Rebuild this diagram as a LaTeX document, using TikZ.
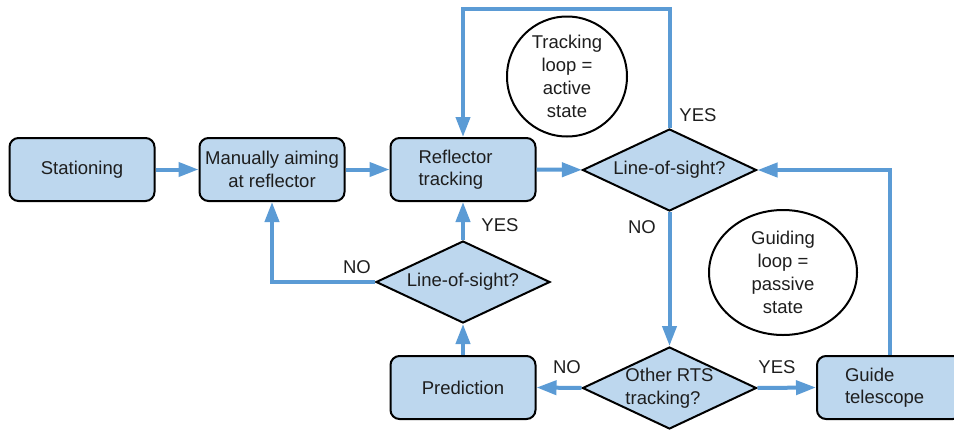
\documentclass[tikz,border=0pt]{standalone}
\usepackage{fontspec}
\setmainfont{Liberation Sans}
\usetikzlibrary{arrows.meta,shapes.geometric}

\definecolor{flowblue}{RGB}{91,155,213}
\definecolor{boxfill}{RGB}{189,215,238}
\definecolor{ink}{RGB}{30,30,30}

\tikzset{
  every node/.style={font=\fontsize{18.5pt}{22.5pt}\selectfont, text=ink},
  stepbox/.style={draw=black, line width=2pt, fill=boxfill, rounded corners=9pt,
    minimum width=145pt, minimum height=63pt, inner sep=0pt, align=center},
  stepboxl/.style={stepbox, align=left, text width=89pt, inner xsep=28pt},
  decision/.style={draw=black, line width=2pt, fill=boxfill, diamond, aspect=2.12,
    minimum width=174pt, minimum height=82pt, inner sep=0pt, align=center},
  loopnote/.style={draw=black, line width=2pt, fill=white, inner sep=0pt, align=center,
    font=\fontsize{18.5pt}{23.2pt}\selectfont},
  flow/.style={draw=flowblue, line width=4pt,
    -{Triangle[length=20pt,width=14pt]}},
  answer/.style={inner sep=0pt}
}

\begin{document}
\begin{tikzpicture}[x=1pt, y=-1pt]
  \useasboundingbox (0,0) rectangle (954,429);
  \clip (0,0) rectangle (954,429);

  % process steps
  \node[stepbox]  (stat)  at (82,169.5)   {Stationing};
  \node[stepbox]  (aim)   at (272,169.5)  {Manually aiming\\at reflector};
  \node[stepboxl] (refl)  at (463,169.5)  {Reflector\\tracking};
  \node[stepbox]  (pred)  at (463,387.5)  {Prediction};
  \node[stepboxl] (guide) at (889.5,387.5) {Guide\\telescope};

  % decisions
  \node[decision] (los1) at (669.5,170) {Line-of-sight?};
  \node[decision] (los2) at (463,282)   {Line-of-sight?};
  \node[decision, align=left] (rts) at (669.5,388) {Other RTS\\tracking?};

  % loop annotations
  \node[loopnote, circle, minimum size=120pt] (trk) at (567,76.5)
    {Tracking\\loop =\\active\\state};
  \node[loopnote, ellipse, minimum width=148pt, minimum height=125pt] (gdl) at (783,272.5)
    {Guiding\\loop =\\passive\\state};

  % connectors
  \coordinate (ytop) at (0,8.5);
  \draw[flow] (stat) -- (aim);
  \draw[flow] (aim) -- (refl);
  \draw[flow] (refl) -- (los1);
  \draw[flow] (los1.north) -- (los1.north |- ytop) -| (refl.north);
  \draw[flow] (los1.south) -- (rts.north);
  \draw[flow] (rts.west) -- (pred.east);
  \draw[flow] (rts.east) -- (guide.west);
  \draw[flow] (guide.north) |- (los1.east);
  \draw[flow] (pred.north) -- (los2.south);
  \draw[flow] (los2.north) -- (refl.south);
  \draw[flow] (los2.west) -| (aim.south);

  % branch labels
  \node[answer] (yes1) at (698,115) {YES};
  \node[answer] (no1)  at (642,227) {NO};
  \node[answer] (yes2) at (500,225) {YES};
  \node[answer] (no2)  at (357,267) {NO};
  \node[answer] (no3)  at (567,367) {NO};
  \node[answer] (yes3) at (777,367) {YES};
\end{tikzpicture}
\end{document}
